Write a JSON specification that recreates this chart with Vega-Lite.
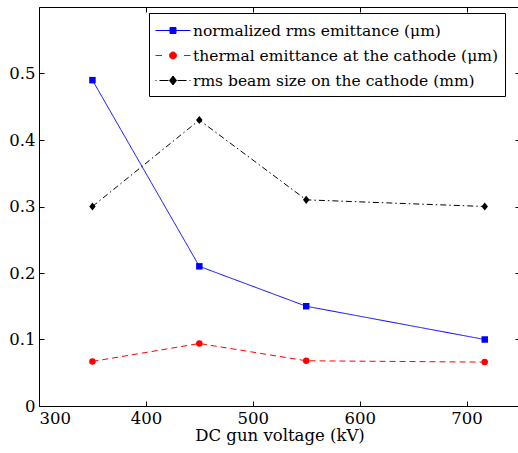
{
  "$schema": "https://vega.github.io/schema/vega-lite/v6.json",
  "width": 481,
  "height": 399,
  "autosize": {"type": "none"},
  "padding": {"left": 39, "top": 7, "right": 0, "bottom": 47},
  "background": "white",
  "config": {
    "view": {"stroke": "black", "strokeWidth": 1},
    "font": "DejaVu Serif",
    "axis": {
      "grid": false,
      "domain": false,
      "tickColor": "black",
      "tickSize": -5,
      "labelFont": "DejaVu Serif",
      "labelFontSize": 16.5,
      "labelColor": "black",
      "titleFont": "DejaVu Serif",
      "titleFontSize": 16.5,
      "titleFontWeight": "normal",
      "titleColor": "black"
    },
    "legend": {
      "orient": "none",
      "legendX": 110,
      "legendY": 6,
      "strokeColor": "black",
      "fillColor": "white",
      "padding": 7,
      "cornerRadius": 0,
      "labelFont": "DejaVu Serif",
      "labelFontSize": 15.5,
      "labelColor": "black",
      "labelLimit": 0,
      "labelExpr": "datum.label + '\u00a0\u00a0\u00a0\u00a0'",
      "symbolSize": 400,
      "symbolOffset": 6.5,
      "labelOffset": 9.5,
      "rowPadding": 6,
      "symbolStrokeWidth": 1,
      "symbolOpacity": 1,
      "symbolFillColor": "black",
      "symbolStrokeColor": "black"
    }
  },
  "data": {
    "values": [
      {"kv": 350, "value": 0.49, "series": "normalized rms emittance (μm)"},
      {"kv": 450, "value": 0.21, "series": "normalized rms emittance (μm)"},
      {"kv": 550, "value": 0.15, "series": "normalized rms emittance (μm)"},
      {"kv": 717, "value": 0.10, "series": "normalized rms emittance (μm)"},
      {"kv": 350, "value": 0.067, "series": "thermal emittance at the cathode (μm)"},
      {"kv": 450, "value": 0.094, "series": "thermal emittance at the cathode (μm)"},
      {"kv": 550, "value": 0.068, "series": "thermal emittance at the cathode (μm)"},
      {"kv": 717, "value": 0.066, "series": "thermal emittance at the cathode (μm)"},
      {"kv": 350, "value": 0.30, "series": "rms beam size on the cathode (mm)"},
      {"kv": 450, "value": 0.43, "series": "rms beam size on the cathode (mm)"},
      {"kv": 550, "value": 0.31, "series": "rms beam size on the cathode (mm)"},
      {"kv": 717, "value": 0.30, "series": "rms beam size on the cathode (mm)"}
    ]
  },
  "layer": [
    {
      "mark": {"type": "line", "strokeWidth": 1},
      "encoding": {
        "x": {"field": "kv", "type": "quantitative", "scale": {"domain": [300, 750], "nice": false, "zero": false},
          "axis": {"orient": "bottom", "values": [300, 400, 500, 600, 700], "ticks": false, "labelPadding": 4,
            "title": "DC gun voltage (kV)", "titlePadding": 1}},
        "y": {"field": "value", "type": "quantitative", "scale": {"domain": [0, 0.6], "nice": false},
          "axis": {"orient": "left", "values": [0, 0.1, 0.2, 0.3, 0.4, 0.5], "format": "~g", "ticks": false, "labelPadding": 4, "title": null}},
        "color": {"field": "series", "type": "nominal",
          "scale": {"domain": ["normalized rms emittance (μm)", "thermal emittance at the cathode (μm)", "rms beam size on the cathode (mm)"], "range": ["#0000ff", "#ff0000", "#000000"]}, "legend": null},
        "strokeDash": {"field": "series", "type": "nominal",
          "scale": {"domain": ["normalized rms emittance (μm)", "thermal emittance at the cathode (μm)", "rms beam size on the cathode (mm)"], "range": [[1, 0], [6, 4], [6, 3, 1.5, 3]]}, "legend": null}
      }
    },
    {
      "mark": {"type": "point", "filled": true, "opacity": 1, "size": 42},
      "encoding": {
        "x": {"field": "kv", "type": "quantitative",
          "axis": {"orient": "top", "values": [300, 400, 500, 600, 700], "labels": false, "title": null}},
        "y": {"field": "value", "type": "quantitative",
          "axis": {"orient": "right", "values": [0, 0.1, 0.2, 0.3, 0.4, 0.5], "labels": false, "title": null}},
        "color": {"field": "series", "type": "nominal", "legend": null},
        "shape": {"field": "series", "type": "nominal",
          "scale": {"domain": ["normalized rms emittance (μm)", "thermal emittance at the cathode (μm)", "rms beam size on the cathode (mm)"], "range": ["square", "circle", "M0,-1.25L1,0L0,1.25L-1,0Z"]}, "legend": null}
      }
    },
    {
      "mark": {"type": "point", "filled": true, "opacity": 0, "strokeWidth": 1},
      "encoding": {
        "x": {"field": "kv", "type": "quantitative",
          "axis": {"orient": "bottom", "values": [300, 400, 500, 600, 700], "labels": false, "title": null}},
        "y": {"field": "value", "type": "quantitative",
          "axis": {"orient": "left", "values": [0, 0.1, 0.2, 0.3, 0.4, 0.5], "labels": false, "title": null}},
        "shape": {"field": "series", "type": "nominal",
          "scale": {"domain": ["normalized rms emittance (μm)", "thermal emittance at the cathode (μm)", "rms beam size on the cathode (mm)"],
            "range": [
              "M-1.75,0H1.75M-0.3,-0.3H0.3V0.3H-0.3Z",
              "M-1.75,0H-1.1M1.1,0H1.75M0.35,0A0.35,0.35 0 1,1 -0.35,0A0.35,0.35 0 1,1 0.35,0Z",
              "M-1.75,0H-1.65M-1.35,0H-0.45M0.45,0H1.35M1.65,0H1.75M0,-0.45L0.35,0L0,0.45L-0.35,0Z"
            ]},
          "legend": {"title": null}},
        "fill": {"field": "series", "type": "nominal",
          "scale": {"domain": ["normalized rms emittance (μm)", "thermal emittance at the cathode (μm)", "rms beam size on the cathode (mm)"], "range": ["#0000ff", "#ff0000", "#000000"]},
          "legend": {"title": null}},
        "stroke": {"field": "series", "type": "nominal",
          "scale": {"domain": ["normalized rms emittance (μm)", "thermal emittance at the cathode (μm)", "rms beam size on the cathode (mm)"], "range": ["#0000ff", "#ff0000", "#000000"]},
          "legend": {"title": null}}
      }
    }
  ],
  "resolve": {
    "axis": {"x": "independent", "y": "independent"},
    "scale": {"shape": "independent", "fill": "independent", "stroke": "independent"}
  }
}
